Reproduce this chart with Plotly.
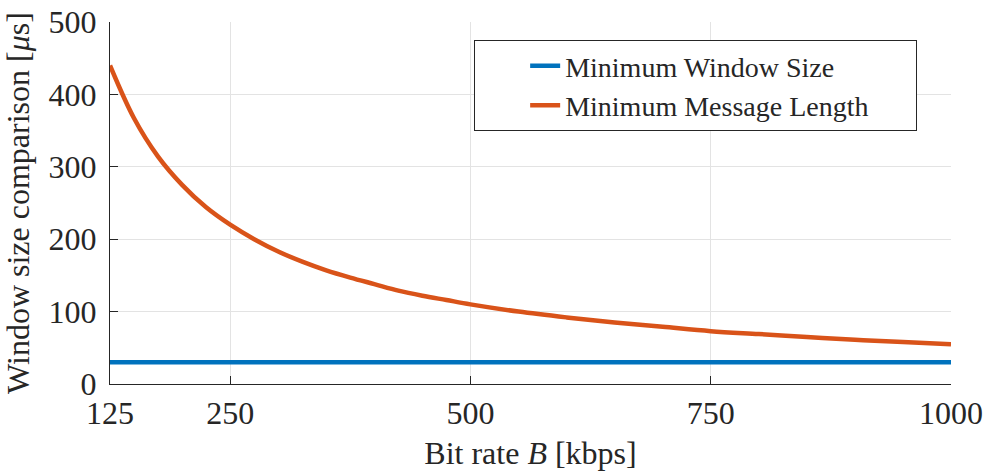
import plotly.graph_objects as go

bit_rate = [125, 150, 175, 200, 225, 250, 275, 300, 325, 350, 375, 400, 425, 450,
            475, 500, 550, 600, 650, 700, 750, 800, 850, 900, 950, 1000]
min_msg_len = [440, 367, 314, 275, 244, 220, 200, 183, 169, 157, 147, 138, 129, 122,
               116, 110, 100, 92, 85, 79, 73, 69, 65, 61, 58, 55]
min_window = [30] * len(bit_rate)

x_ticks = [125, 250, 500, 750, 1000]
y_ticks = [0, 100, 200, 300, 400, 500]
series_names = ["Minimum Window Size", "Minimum Message Length"]

FONT = "Liberation Serif"
FS = 32
PAD = "\u00a0" * 6  # invisible padding to widen legend box like the reference

fig = go.Figure()
fig.add_trace(go.Scatter(x=bit_rate, y=min_window, mode="lines", name=series_names[0],
                         line=dict(color="#0072BD", width=4.5)))
fig.add_trace(go.Scatter(x=bit_rate, y=min_msg_len, mode="lines", name=series_names[1] + PAD,
                         line=dict(color="#D95319", width=4.5, shape="spline")))

fig.update_layout(
    width=989, height=471,
    margin=dict(l=110, r=38, t=22, b=87),
    paper_bgcolor="white", plot_bgcolor="white",
    font=dict(family=FONT, size=FS, color="#262626"),
    xaxis=dict(range=[125, 1000], tickvals=x_ticks, ticks="inside", ticklen=8,
               tickcolor="#262626", showline=True, linecolor="#262626", linewidth=1.2,
               showgrid=True, gridcolor="#e3e3e3", gridwidth=1, zeroline=False,
               automargin=False, ticklabelstandoff=0, ticklabeloverflow="allow",
               title=dict(text="Bit rate <i>B</i> [kbps]", standoff=12, font=dict(size=FS)),
               tickfont=dict(size=FS)),
    yaxis=dict(range=[0, 500], tickvals=y_ticks, ticks="inside", ticklen=8,
               tickcolor="#262626", showline=True, linecolor="#262626", linewidth=1.2,
               showgrid=True, gridcolor="#e3e3e3", gridwidth=1, zeroline=False,
               automargin=False, ticklabelstandoff=6, ticklabeloverflow="allow",
               title=dict(text="Window size comparison [<i>μ</i>s]", standoff=10, font=dict(size=FS)),
               tickfont=dict(size=FS)),
    legend=dict(x=0.433, y=0.95, xanchor="left", yanchor="top",
                bordercolor="#262626", borderwidth=1, bgcolor="white",
                font=dict(size=28), tracegroupgap=0, indentation=50),
)

fig.write_html("out.html", config={"displayModeBar": False},
               post_script="document.body.style.margin='0';")
